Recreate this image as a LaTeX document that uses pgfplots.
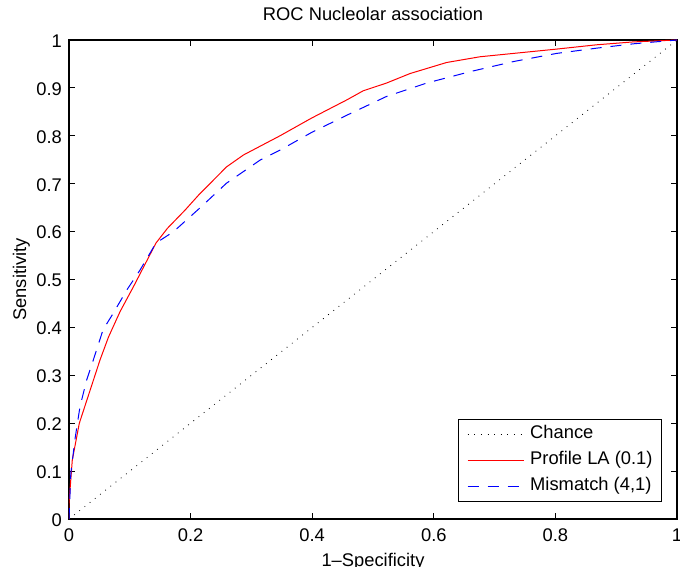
\documentclass[border=0pt]{standalone}
\usepackage{fontspec}
\setmainfont{Liberation Sans}
\usepackage{pgfplots}
\pgfplotsset{compat=1.18}
\begin{document}
\begin{tikzpicture}[font=\fontsize{18.4}{21}\selectfont]
\path[use as bounding box] (-69bp,-48bp) rectangle (611bp,519bp);
\begin{axis}[
  at={(0,0)}, anchor=south west,
  scale only axis, width=608bp, height=479bp,
  xmin=0, xmax=1, ymin=0, ymax=1,
  xtick={0,0.2,0.4,0.6,0.8,1},
  ytick={0,0.1,0.2,0.3,0.4,0.5,0.6,0.7,0.8,0.9,1},
  tick align=inside, major tick length=6bp,
  xtick pos=both, ytick pos=both,
  tick style={black, line width=0.8bp},
  axis line style={black, line width=1.2bp},
  /pgf/number format/assume math mode=true,
  xticklabel style={anchor=base, inner sep=0pt, yshift=-22bp},
  yticklabel style={anchor=east, inner sep=0pt, xshift=-7bp, yshift=-1bp},
  title={ROC Nucleolar association},
  title style={at={(axis description cs:0.5,1)}, anchor=base, yshift=14bp, inner sep=0pt},
  xlabel={1\textendash Specificity},
  xlabel style={at={(axis description cs:0.5,0)}, anchor=base, yshift=-47bp, inner sep=0pt},
  ylabel={Sensitivity},
  ylabel style={at={(axis description cs:-0.0707,0.5)}, anchor=base, inner sep=0pt},
  legend cell align=left,
  legend image code/.code={\draw[#1] (0bp,0bp) -- (56bp,0bp);},
  legend style={at={(axis description cs:0.9753,0.0361)}, anchor=south east,
    draw=black, line width=1bp, inner xsep=9bp, inner ysep=7bp,
    column sep=6bp, row sep=10bp,
    nodes={inner sep=0pt, text height=12.5bp, text depth=3.5bp, line width=0.4pt}},
]
\addplot[black, line width=0.8bp, dash pattern=on 0.8bp off 5.8bp] coordinates {(0,0) (1,1)};
\addlegendentry{Chance}
\addplot[red, line width=1bp] coordinates {
(0,0) (0,0.033) (0.0054,0.123) (0.017,0.2) (0.051,0.332) (0.065,0.38) (0.084,0.433)
(0.106,0.485) (0.143,0.576) (0.162,0.607) (0.191,0.645) (0.213,0.676) (0.259,0.735)
(0.287,0.76) (0.347,0.8) (0.399,0.837) (0.457,0.875) (0.484,0.894) (0.522,0.91)
(0.561,0.93) (0.621,0.953) (0.676,0.965) (0.731,0.972) (0.802,0.981) (0.868,0.99)
(0.928,0.996) (1,1)};
\addlegendentry{Profile LA (0.1)}
\addplot[blue, line width=1bp, dash pattern=on 11bp off 9bp] coordinates {
(0,0) (0.003,0.095) (0.01,0.168) (0.018,0.234) (0.029,0.29) (0.04,0.332) (0.056,0.395)
(0.073,0.43) (0.095,0.478) (0.117,0.52) (0.143,0.576) (0.172,0.6) (0.215,0.649)
(0.259,0.701) (0.314,0.749) (0.347,0.77) (0.399,0.807) (0.457,0.843) (0.522,0.882)
(0.588,0.91) (0.66,0.934) (0.731,0.955) (0.802,0.972) (0.868,0.983) (0.928,0.992) (1,1)};
\addlegendentry{Mismatch (4,1)}
\end{axis}
\end{tikzpicture}
\end{document}
